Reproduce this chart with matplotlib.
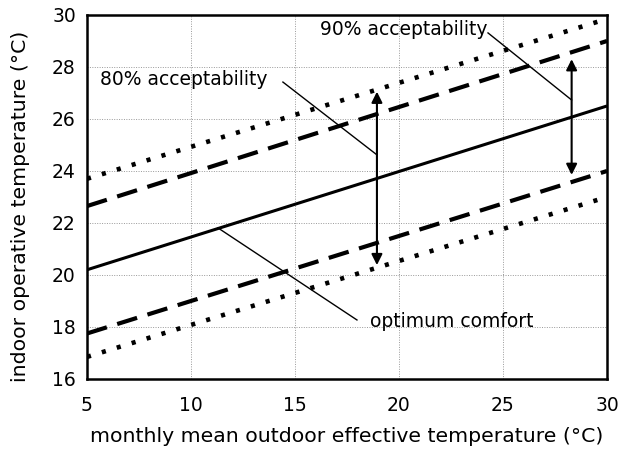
import matplotlib
matplotlib.use("Agg")
import matplotlib.pyplot as plt
import numpy as np

# Data
outdoor_t = [5, 30]
optimum = [20.2, 26.5]
upper_90 = [22.65, 29.0]
lower_90 = [17.75, 24.0]
upper_80 = [23.7, 29.85]
lower_80 = [16.85, 23.0]

x_ticks = [5, 10, 15, 20, 25, 30]
y_ticks = [16, 18, 20, 22, 24, 26, 28, 30]

plt.rcParams['font.family'] = ['DejaVu Sans']
fig = plt.figure(figsize=(6.19, 4.54), dpi=100)
ax = fig.add_axes([0.1405, 0.1652, 0.8401, 0.8018])

ax.plot(outdoor_t, optimum, color='black', lw=2.2, solid_capstyle='butt')
for ys in (upper_90, lower_90):
    ax.plot(outdoor_t, ys, color='black', lw=3.0, dashes=(5.0, 2.6))
for ys in (upper_80, lower_80):
    ax.plot(outdoor_t, ys, color='black', lw=3.3, dashes=(0.9, 2.5))

ax.set_xlim(5, 30)
ax.set_ylim(16, 30)
ax.set_xticks(x_ticks)
ax.set_yticks(y_ticks)
ax.grid(True, color='#999999', lw=0.7, ls=(0, (1, 1.5)))
ax.tick_params(length=0, labelsize=13.5, pad=8)
ax.tick_params(axis='x', pad=12)
for s in ax.spines.values():
    s.set_linewidth(1.8)

ax.set_xlabel('monthly mean outdoor effective temperature (°C)', fontsize=14.7, labelpad=9)
ax.set_ylabel('indoor operative temperature (°C)', fontsize=14.7)
ax.yaxis.set_label_coords(-0.11, 0.475)

# double arrows
arr = dict(arrowstyle='<|-|>', color='black', lw=1.5, mutation_scale=16, shrinkA=0, shrinkB=0)
ax.annotate('', xy=(18.94, 27.05), xytext=(18.94, 20.38), arrowprops=arr)
ax.annotate('', xy=(28.3, 28.3), xytext=(28.3, 23.85), arrowprops=arr)

# leader lines and labels
ax.plot([14.42, 18.94], [27.42, 24.62], color='black', lw=1.0)
ax.text(5.65, 27.5, '80% acceptability', fontsize=13.5, va='center', ha='left')
ax.plot([24.28, 28.3], [29.31, 26.73], color='black', lw=1.0)
ax.text(16.2, 29.45, '90% acceptability', fontsize=13.5, va='center', ha='left')
ax.plot([11.3, 17.98], [21.81, 18.27], color='black', lw=1.0)
ax.text(18.6, 18.2, 'optimum comfort', fontsize=13.5, va='center', ha='left')

fig.savefig('out.png', dpi=100)
